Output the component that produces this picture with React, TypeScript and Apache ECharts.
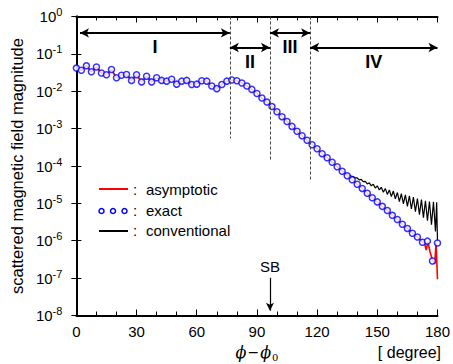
import React, { useEffect, useRef } from "react";
import * as echarts from "echarts";

// exact solution (blue circles): angle (deg) and log10 magnitude
const exactDeg = [
  0, 2.5, 5, 7.5, 10, 12.5, 15, 17.5, 20, 22.5, 25, 27.5, 30, 32.5, 35, 37.5,
  40, 42.5, 45, 47.5, 50, 52.5, 55, 57.5, 60, 62.5, 65, 67.5, 70, 72.5, 75, 77.5,
  80, 82.5, 85, 87.5, 90, 92.5, 95, 97.5, 100, 102.5, 105, 107.5, 110, 112.5, 115, 117.5,
  120, 122.5, 125, 127.5, 130, 132.5, 135, 137.5, 140, 142.5, 145, 147.5, 150, 152.5, 155, 157.5,
  160, 162.5, 165, 167.5, 170, 172.5, 175, 177.5, 180,
];
const exactExp = [
  -1.38, -1.44, -1.32, -1.48, -1.35, -1.51, -1.56, -1.42, -1.64, -1.57, -1.55, -1.71, -1.56, -1.75, -1.6, -1.75,
  -1.64, -1.71, -1.73, -1.68, -1.81, -1.73, -1.71, -1.82, -1.81, -1.72, -1.73, -1.86, -1.93, -1.82, -1.73, -1.7,
  -1.72, -1.78, -1.86, -1.95, -2.06, -2.18, -2.29, -2.41, -2.55, -2.68, -2.81, -2.94, -3.07, -3.19, -3.31, -3.43,
  -3.54, -3.67, -3.78, -3.9, -4.02, -4.14, -4.26, -4.37, -4.49, -4.6, -4.73, -4.85, -4.96, -5.08, -5.19, -5.32,
  -5.43, -5.56, -5.67, -5.8, -5.9, -6.04, -6.01, -6.54, -6.06,
];

// asymptotic (red) follows exact up to 170 deg, then this tail
const asymTailDeg = [171.5, 172.5, 173.6, 174.4, 175.2, 176.3, 177.5, 178.6, 179.3, 180];
const asymTailExp = [-5.97, -6.03, -6.08, -6.25, -6.02, -6.3, -6.52, -6.62, -6.06, -7.03];

// conventional (black) follows exact up to 132.5 deg, then this oscillating tail
const convTailDeg = [
  134, 135, 136, 137, 138, 139, 140, 141, 142, 143, 144, 145, 146, 147, 148, 149,
  150, 151, 152, 153, 154, 155, 156, 157, 158, 159, 160, 161, 162, 163, 164, 165,
  166, 167, 168, 169, 170, 171, 172, 173, 174, 175, 176, 177, 178, 179, 179.6, 180,
];
const convTailExp = [
  -4.19, -4.22, -4.24, -4.27, -4.28, -4.32, -4.32, -4.37, -4.36, -4.42, -4.41, -4.48, -4.45, -4.53, -4.49, -4.59,
  -4.53, -4.64, -4.57, -4.7, -4.6, -4.76, -4.64, -4.82, -4.67, -4.88, -4.71, -4.95, -4.74, -5.01, -4.77, -5.08,
  -4.8, -5.15, -4.83, -5.22, -4.87, -5.3, -4.9, -5.38, -4.93, -5.46, -4.95, -5.57, -4.96, -5.75, -4.97, -6.02,
];

// region boundaries (deg) and labels
const regionBounds = [1.8, 76.5, 96.5, 116.5, 180];
const regionLabels = ["I", "II", "III", "IV"];
const regionArrowExp = [-0.44, -0.83, -0.44, -0.83];
const dashDeg = [76.5, 96.5, 116.5];
const dashBottomExp = [-3.26, -3.84, -4.4];
const sbDeg = 96.5;
const sbExp = [-6.99, -7.87];

const xTicks = { min: 0, max: 180, interval: 30 };
const yRange = { minExp: -8, maxExp: 0 };

const FONT = "Liberation Sans, Arial, sans-serif";
const SERIF = "DejaVu Serif, Liberation Serif, serif";
const p10 = (e: number) => Math.pow(10, e);

export default function App() {
  const ref = useRef<HTMLDivElement>(null);
  useEffect(() => {
    if (!ref.current) return;
    const chart = echarts.init(ref.current, undefined, { renderer: "svg" });

    const exactData = exactDeg.map((d, i) => [d, p10(exactExp[i])]);
    const asymData = exactDeg
      .map((d, i) => [d, exactExp[i]])
      .filter((p) => p[0] <= 170)
      .concat(asymTailDeg.map((d, i) => [d, asymTailExp[i]]))
      .map((p) => [p[0], p10(p[1])]);
    const convData = exactDeg
      .map((d, i) => [d, exactExp[i]])
      .filter((p) => p[0] <= 132.5)
      .concat(convTailDeg.map((d, i) => [d, convTailExp[i]]))
      .map((p) => [p[0], p10(p[1])]);

    const axisLineStyle = { color: "#000", width: 2 };
    const xBase = {
      type: "value",
      min: xTicks.min,
      max: xTicks.max,
      interval: xTicks.interval,
      axisLine: { show: true, lineStyle: axisLineStyle },
      axisTick: { show: true, inside: true, length: 6, lineStyle: { color: "#000", width: 1 } },
      minorTick: { show: true, splitNumber: 3, length: 4, lineStyle: { color: "#000", width: 1 } },
      splitLine: { show: false },
      minorSplitLine: { show: false },
    };
    const yBase = {
      type: "log",
      logBase: 10,
      min: p10(yRange.minExp),
      max: p10(yRange.maxExp),
      interval: 1,
      axisLine: { show: true, lineStyle: axisLineStyle },
      axisTick: { show: true, inside: true, length: 5, lineStyle: { color: "#000", width: 1 } },
      splitLine: { show: false },
    };

    const option: any = {
      animation: false,
      grid: { left: 73, right: 14, top: 16.5, bottom: 48.5, containLabel: false },
      xAxis: [
        {
          ...xBase,
          position: "bottom",
          axisLabel: { fontSize: 15, color: "#000", fontFamily: FONT, margin: 8 },
        },
        { ...xBase, position: "top", axisLabel: { show: false } },
      ],
      yAxis: [
        {
          ...yBase,
          position: "left",
          name: "scattered magnetic field magnitude",
          nameLocation: "middle",
          nameGap: 49,
          nameTextStyle: { fontSize: 16.5, color: "#000", fontFamily: FONT },
          axisLabel: {
            color: "#000",
            margin: 14,
            formatter: (v: number) => `{b|10}{s|${Math.round(Math.log10(v))}}`,
            rich: {
              b: { fontSize: 15, fontFamily: FONT, color: "#000" },
              s: { fontSize: 11, fontFamily: FONT, color: "#000", padding: [0, 0, 9, 0] },
            },
          },
        },
        { ...yBase, position: "right", axisLabel: { show: false } },
      ],
      series: [
        {
          name: "conventional",
          type: "line",
          data: convData,
          showSymbol: false,
          symbol: "none",
          lineStyle: { color: "#000", width: 1.2 },
          z: 2,
        },
        {
          name: "asymptotic",
          type: "line",
          data: asymData,
          showSymbol: false,
          symbol: "none",
          lineStyle: { color: "#ff0000", width: 1.6 },
          z: 3,
        },
        {
          name: "exact",
          type: "scatter",
          data: exactData,
          symbol: "circle",
          symbolSize: 6,
          itemStyle: { color: "#fff", borderColor: "#0000ff", borderWidth: 1.5 },
          z: 4,
        },
        {
          name: "dash",
          type: "line",
          data: [],
          silent: true,
          markLine: {
            silent: true,
            symbol: ["none", "none"],
            label: { show: false },
            lineStyle: { color: "#444", width: 1, type: [3, 2] },
            data: dashDeg.map((d, i) => [
              { coord: [d, p10(yRange.maxExp)] },
              { coord: [d, p10(dashBottomExp[i])] },
            ]),
          },
        },
        {
          name: "regions",
          type: "line",
          data: [],
          silent: true,
          markLine: {
            silent: true,
            symbol: ["arrow", "arrow"],
            symbolSize: [7, 9],
            lineStyle: { color: "#000", width: 2, type: "solid" },
            label: {
              show: true,
              position: "insideMiddleBottom",
              distance: 5,
              formatter: (p: any) => p.name,
              fontSize: 18,
              fontWeight: "bold",
              fontFamily: FONT,
              color: "#000",
            },
            data: regionLabels.map((name, i) => [
              { name, coord: [regionBounds[i], p10(regionArrowExp[i])] },
              { coord: [regionBounds[i + 1], p10(regionArrowExp[i])] },
            ]),
          },
        },
        {
          name: "sb",
          type: "line",
          data: [],
          silent: true,
          markLine: {
            silent: true,
            symbol: ["none", "arrow"],
            symbolSize: [6, 8],
            lineStyle: { color: "#000", width: 1.2, type: "solid" },
            label: {
              show: true,
              position: "start",
              distance: 4,
              formatter: "SB",
              fontSize: 15,
              fontFamily: FONT,
              color: "#000",
            },
            data: [[{ coord: [sbDeg, p10(sbExp[0])] }, { coord: [sbDeg, p10(sbExp[1])] }]],
          },
        },
      ],
      graphic: [
        { type: "line", shape: { x1: 99, y1: 189, x2: 128, y2: 189 }, style: { stroke: "#ff0000", lineWidth: 2 } },
        { type: "circle", shape: { cx: 101.5, cy: 211, r: 2.5 }, style: { stroke: "#0000ff", lineWidth: 1.5, fill: "#fff" } },
        { type: "circle", shape: { cx: 113, cy: 211, r: 2.5 }, style: { stroke: "#0000ff", lineWidth: 1.5, fill: "#fff" } },
        { type: "circle", shape: { cx: 124.5, cy: 211, r: 2.5 }, style: { stroke: "#0000ff", lineWidth: 1.5, fill: "#fff" } },
        { type: "line", shape: { x1: 99, y1: 231, x2: 128, y2: 231 }, style: { stroke: "#000", lineWidth: 2 } },
        ...[
          [189, "asymptotic"],
          [210, "exact"],
          [230, "conventional"],
        ].flatMap(([y, t]) => [
          { type: "text", x: 133, y: y as number, style: { text: ":", font: `15px ${FONT}`, fill: "#000", verticalAlign: "middle" } },
          { type: "text", x: 146, y: y as number, style: { text: t as string, font: `15px ${FONT}`, fill: "#000", verticalAlign: "middle" } },
        ]),
        {
          type: "text",
          x: 257,
          y: 352,
          style: {
            text: "{i|ϕ}{m|−}{i|ϕ}{sub|0}",
            align: "center",
            verticalAlign: "middle",
            rich: {
              i: { fontSize: 16, fontStyle: "italic", fontFamily: SERIF, fill: "#000" },
              m: { fontSize: 14, fontFamily: SERIF, fill: "#000", padding: [0, 1, 0, 1] },
              sub: { fontSize: 10, fontFamily: SERIF, fill: "#000", padding: [10, 0, 0, 1] },
            },
          },
        },
        {
          type: "text",
          x: 441,
          y: 352,
          style: { text: "[ degree]", font: `16px ${FONT}`, fill: "#000", align: "right", verticalAlign: "middle" },
        },
      ],
    };
    chart.setOption(option);
    return () => chart.dispose();
  }, []);
  return <div ref={ref} style={{ width: 453, height: 364, position: "absolute", left: 0, top: 0 }} />;
}
